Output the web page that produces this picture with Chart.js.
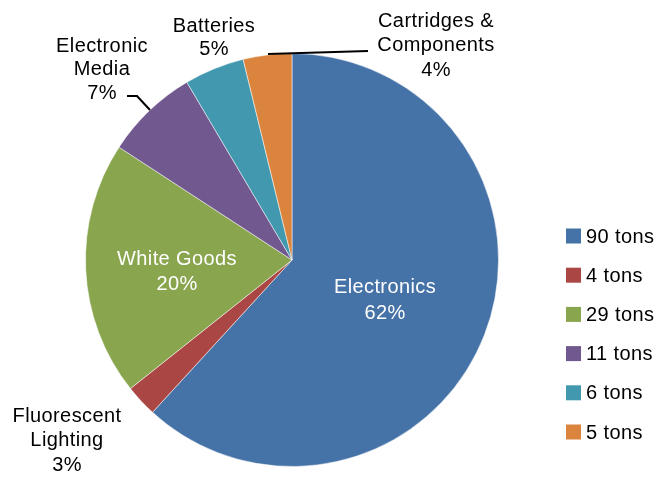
<!DOCTYPE html>
<html lang="en">
<head>
  <meta charset="UTF-8" />
  <title>Recycled Materials</title>
  <script src="https://cdn.jsdelivr.net/npm/chart.js"></script>
  <style>
    html, body { margin: 0; padding: 0; background: #fff; }
    #wrap { width: 656px; height: 477px; position: relative; }
  </style>
</head>
<body>
  <div id="wrap"><canvas id="pieChart"></canvas></div>

  <script>
    const categories = ['Electronics', 'Fluorescent Lighting', 'White Goods', 'Electronic Media', 'Batteries', 'Cartridges & Components'];
    // share of total, in percent
    const shares = [61.8, 2.5, 19.9, 7.3, 4.7, 3.8];
    const percentLabels = ['62%', '3%', '20%', '7%', '5%', '4%'];
    const legendLabels = ['90 tons', '4 tons', '29 tons', '11 tons', '6 tons', '5 tons'];
    const colors = ['#4572A7', '#AA4643', '#89A54E', '#71588F', '#4198AF', '#DB843D'];

    const FONT = '20px "Liberation Sans", Arial, sans-serif';

    // slice label text blocks: lines, colour, centre x, first line y (relative to pie centre)
    const labelSpots = [
      { lines: ['Electronics', percentLabels[0]], color: '#fff', dx: 93, dy: 27, lh: 26 },
      { lines: ['Fluorescent', 'Lighting', percentLabels[1]], color: '#000', dx: -225, dy: 156, lh: 24.5 },
      { lines: ['White Goods', percentLabels[2]], color: '#fff', dx: -115, dy: -1, lh: 25 },
      { lines: ['Electronic', 'Media', percentLabels[3]], color: '#000', dx: -190, dy: -214, lh: 23.5 },
      { lines: ['Batteries', percentLabels[4]], color: '#000', dx: -78, dy: -234, lh: 23 },
      { lines: ['Cartridges &', 'Components', percentLabels[5]], color: '#000', dx: 144, dy: -239, lh: 24.5 }
    ];

    const sliceLabels = {
      id: 'sliceLabels',
      afterDraw(chart) {
        const ctx = chart.ctx;
        const arc = chart.getDatasetMeta(0).data[0];
        const cx = arc.x, cy = arc.y;
        ctx.save();
        ctx.font = FONT;
        ctx.letterSpacing = '0.4px';
        ctx.textAlign = 'center';
        ctx.textBaseline = 'middle';
        labelSpots.forEach(s => {
          ctx.fillStyle = s.color;
          s.lines.forEach((t, i) => ctx.fillText(t, cx + s.dx, cy + s.dy + i * s.lh));
        });

        // leader lines
        ctx.strokeStyle = '#000';
        ctx.lineWidth = 2;
        ctx.beginPath();
        ctx.moveTo(cx - 165, cy - 164);
        ctx.lineTo(cx - 155, cy - 164);
        ctx.lineTo(cx - 142, cy - 150);
        ctx.stroke();
        ctx.beginPath();
        ctx.moveTo(cx - 24, cy - 206);
        ctx.lineTo(cx + 76, cy - 209);
        ctx.stroke();

        // legend
        ctx.textAlign = 'left';
        legendLabels.forEach((t, i) => {
          const y = 236 + i * 39.2;
          ctx.fillStyle = colors[i];
          ctx.fillRect(566, y - 7.5, 15, 15);
          ctx.fillStyle = '#000';
          ctx.fillText(t, 586, y + 1);
        });
        ctx.restore();
      }
    };

    new Chart(document.getElementById('pieChart'), {
      type: 'pie',
      data: {
        labels: categories,
        datasets: [{
          data: shares,
          backgroundColor: colors,
          borderColor: 'rgba(255,255,255,0.5)',
          borderWidth: 1
        }]
      },
      options: {
        responsive: true,
        maintainAspectRatio: false,
        animation: false,
        layout: { padding: { left: 85, right: 157, top: 53, bottom: 10 } },
        plugins: {
          legend: { display: false },
          tooltip: { enabled: false }
        }
      },
      plugins: [sliceLabels]
    });
  </script>
</body>
</html>
